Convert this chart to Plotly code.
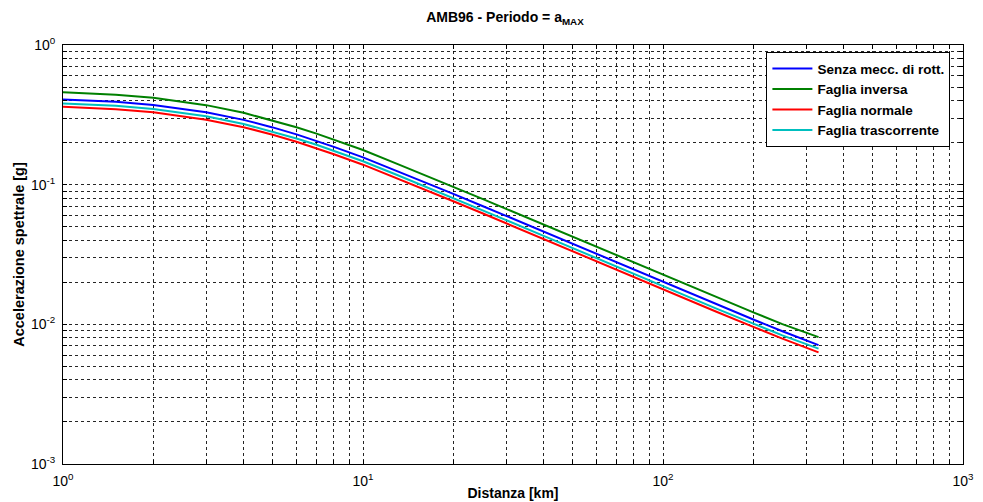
import plotly.graph_objects as go

distanza = [1, 1.5, 2, 3, 4, 5, 6, 7, 8, 10, 13, 16, 20, 25, 30, 40, 50, 70, 100, 150, 200, 250, 330]

senza_mecc = [0.408, 0.392, 0.372, 0.330, 0.291, 0.257, 0.229, 0.206, 0.1865, 0.157, 0.1253, 0.1046,
              0.0859, 0.0704, 0.0597, 0.0460, 0.0375, 0.0277, 0.0200, 0.01393, 0.01083, 0.00892, 0.0071]
faglia_inversa = [0.459, 0.441, 0.419, 0.371, 0.327, 0.289, 0.258, 0.232, 0.210, 0.177, 0.1410, 0.1177,
                  0.0967, 0.0792, 0.0671, 0.0518, 0.0422, 0.0311, 0.0225, 0.01568, 0.01219, 0.01003, 0.0081]
faglia_normale = [0.361, 0.347, 0.330, 0.292, 0.258, 0.228, 0.203, 0.1825, 0.1652, 0.139, 0.1111, 0.0927,
                  0.0761, 0.0624, 0.0529, 0.0408, 0.0332, 0.0245, 0.0178, 0.01235, 0.0096, 0.0079, 0.0063]
faglia_trascorrente = [0.381, 0.367, 0.348, 0.309, 0.272, 0.240, 0.214, 0.193, 0.174, 0.147, 0.1172, 0.0978,
                       0.0804, 0.0658, 0.0558, 0.0430, 0.0351, 0.0259, 0.0187, 0.01302, 0.01012, 0.00834, 0.0067]

series_names = ["Senza mecc. di rott.", "Faglia inversa", "Faglia normale", "Faglia trascorrente"]
series_colors = ["#0000FF", "#008000", "#FF0000", "#00BFBF"]

x_decades = [0, 1, 2, 3]
y_decades = [-3, -2, -1, 0]


def log_ticks(decades):
    vals, texts = [], []
    for d in decades:
        for m in range(1, 10):
            if d == decades[-1] and m > 1:
                break
            vals.append(m * 10 ** d)
            texts.append(f"10<sup>{d}</sup>" if m == 1 else "")
    return vals, texts


xt_vals, xt_text = log_ticks(x_decades)
yt_vals, yt_text = log_ticks(y_decades)

fig = go.Figure()
for name, color, ys in zip(series_names, series_colors,
                           [senza_mecc, faglia_inversa, faglia_normale, faglia_trascorrente]):
    fig.add_trace(go.Scatter(x=distanza, y=ys, mode="lines", name=f"<b>{name}</b>",
                             line=dict(color=color, width=2)))

font_family = "Liberation Sans, Arial, sans-serif"
axis_common = dict(
    showline=True, linecolor="black", linewidth=1, mirror="ticks",
    ticks="inside", ticklen=4, tickcolor="black",
    showgrid=True, gridcolor="rgba(0,0,0,0.85)", gridwidth=1, griddash="3px,3px",
    zeroline=False, automargin=False,
    tickfont=dict(family=font_family, size=14, color="black"),
)

fig.update_xaxes(type="log", range=[0, 3], tickmode="array", tickvals=xt_vals, ticktext=xt_text,
                 ticklabelstandoff=4,
                 title=dict(text="<b>Distanza [km]</b>", font=dict(family=font_family, size=14, color="black"),
                            standoff=0),
                 **axis_common)
fig.update_yaxes(type="log", range=[-3, 0], tickmode="array", tickvals=yt_vals, ticktext=yt_text,
                 ticklabelstandoff=4,
                 title=dict(text="<b>Accelerazione spettrale [g]</b>",
                            font=dict(family=font_family, size=14.5, color="black"), standoff=2),
                 **axis_common)

fig.update_layout(
    width=983, height=502,
    margin=dict(l=63, r=20, t=45, b=38, autoexpand=False),
    paper_bgcolor="white", plot_bgcolor="white",
    title=dict(text="<b>AMB96 - Periodo = a<sub>MAX</sub></b>", x=0.5137, xanchor="center",
               y=0.975, yanchor="top", font=dict(family=font_family, size=14, color="black")),
    legend=dict(x=0.986, y=0.983, xanchor="right", yanchor="top",
                bgcolor="white", bordercolor="black", borderwidth=1,
                font=dict(family=font_family, size=13.5, color="black"),
                tracegroupgap=0, itemwidth=40),
    showlegend=True,
)

fig.write_html("out.html")
